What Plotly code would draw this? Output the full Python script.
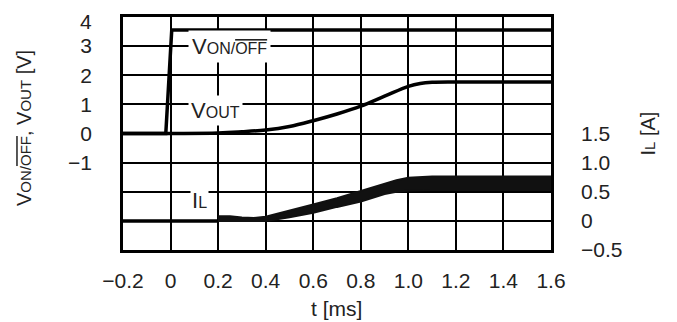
import plotly.graph_objects as go

# ---- data ----
t_ctrl = [-0.2, -0.02, 0.005, 1.6]
v_ctrl = [0.0, 0.0, 3.55, 3.55]

t_out = [-0.2, 0.2, 0.3, 0.4, 0.5, 0.6, 0.7, 0.8, 0.9, 1.0, 1.05, 1.1, 1.2, 1.6]
v_out = [0.0, 0.02, 0.06, 0.12, 0.24, 0.44, 0.67, 0.94, 1.28, 1.62, 1.72, 1.76, 1.77, 1.77]

t_il_base = [-0.2, 0.2]
il_base = [0.0, 0.0]

t_il = [0.2, 0.25, 0.3, 0.35, 0.4, 0.5, 0.6, 0.7, 0.8, 0.9, 0.95, 1.0, 1.1, 1.6]
il_upper = [0.08, 0.08, 0.06, 0.05, 0.07, 0.17, 0.28, 0.39, 0.51, 0.64, 0.70, 0.74, 0.76, 0.76]
il_lower = [0.0, 0.0, -0.01, -0.01, 0.0, 0.06, 0.14, 0.24, 0.33, 0.46, 0.50, 0.52, 0.53, 0.53]

x_ticks = [-0.2, 0.0, 0.2, 0.4, 0.6, 0.8, 1.0, 1.2, 1.4, 1.6]
x_tick_text = ["\u22120.2", "0", "0.2", "0.4", "0.6", "0.8", "1.0", "1.2", "1.4", "1.6"]

y_ticks = [-4, -3, -2, -1, 0, 1, 2, 3, 4]
y_tick_text = ["", "", "", "\u22121", "0", "1", "2", "3", ""]
y_top_label = "4"   # top tick label, placed as text so it stays inside the page

y2_ticks = [-0.5, 0.0, 0.5, 1.0, 1.5]
y2_tick_text = ["\u22120.5", "0", "0.5", "1.0", "1.5"]

FONT = "Liberation Sans, Arial, sans-serif"
LW = 3.5

fig = go.Figure()
fig.add_trace(go.Scatter(x=t_ctrl, y=v_ctrl, mode="lines",
                         line=dict(color="black", width=LW), yaxis="y"))
fig.add_trace(go.Scatter(x=t_out, y=v_out, mode="lines", line_shape="spline",
                         line=dict(color="black", width=LW), yaxis="y"))
fig.add_trace(go.Scatter(x=t_il_base, y=il_base, mode="lines",
                         line=dict(color="black", width=LW), yaxis="y2"))
fig.add_trace(go.Scatter(x=t_il, y=il_lower, mode="lines",
                         line=dict(color="#111", width=2), yaxis="y2"))
fig.add_trace(go.Scatter(x=t_il, y=il_upper, mode="lines", fill="tonexty",
                         fillcolor="#111", line=dict(color="#111", width=2), yaxis="y2"))

small = "font-size:16px"
small_t = "font-size:15px"
TXT = "#222"
annotations = [
    dict(x=0.247, y=3, xref="x", yref="y", xanchor="center", yanchor="middle",
         text=f"V<span style='{small}'>ON/<span style='text-decoration:overline'>OFF</span></span>",
         showarrow=False, bgcolor="white", font=dict(size=22, family=FONT, color=TXT),
         borderpad=3),
    dict(x=0.19, y=0.8, xref="x", yref="y", xanchor="center", yanchor="middle",
         text=f"V<span style='{small}'>OUT</span>",
         showarrow=False, bgcolor="white", font=dict(size=22, family=FONT, color=TXT),
         borderpad=2),
    dict(x=0.12, y=-2.3, xref="x", yref="y", xanchor="center", yanchor="middle",
         text=f"I<span style='{small}'>L</span>",
         showarrow=False, bgcolor="white", font=dict(size=22, family=FONT, color=TXT),
         borderpad=1),
    dict(x=-0.231, y=0.524, xref="paper", yref="paper", textangle=-90,
         xanchor="center", yanchor="middle",
         text=f"V<span style='{small_t}'>ON/<span style='text-decoration:overline'>OFF</span></span>, V<span style='{small_t}'>OUT</span> [V]",
         showarrow=False, font=dict(size=20, family=FONT, color=TXT)),
    dict(x=1.2266, y=0.5, xref="paper", yref="paper", textangle=-90,
         xanchor="center", yanchor="middle",
         text=f"I<span style='{small_t}'>L</span> [A]",
         showarrow=False, font=dict(size=20, family=FONT, color=TXT)),
    dict(x=0.498, y=-0.253, xref="paper", yref="paper",
         xanchor="center", yanchor="middle",
         text="t [ms]", showarrow=False, font=dict(size=21, family=FONT, color=TXT)),
    dict(x=-0.0678, y=1.0386, xref="paper", yref="paper",
         xanchor="right", yanchor="top",
         text=y_top_label, showarrow=False, font=dict(size=21, family=FONT, color=TXT)),
]

fig.update_layout(
    width=677, height=322,
    margin=dict(l=115, r=134, t=9, b=80, autoexpand=False),
    paper_bgcolor="white", plot_bgcolor="white",
    showlegend=False,
    font=dict(family=FONT, size=21, color=TXT),
    annotations=annotations,
    xaxis=dict(range=[-0.2, 1.6], tickvals=x_ticks, ticktext=x_tick_text,
               showgrid=True, gridcolor="black", gridwidth=1.6, zeroline=False,
               showline=True, mirror=True, linecolor="black", linewidth=2.5,
               ticks="", ticklabelstandoff=10, automargin=False,
               ticklabeloverflow="allow"),
    yaxis=dict(range=[-4, 4], tickvals=y_ticks, ticktext=y_tick_text,
               showgrid=True, gridcolor="black", gridwidth=1.6, zeroline=False,
               showline=True, mirror=True, linecolor="black", linewidth=2.5,
               ticks="", ticklabelstandoff=24, automargin=False,
               ticklabeloverflow="allow"),
    yaxis2=dict(range=[-0.5, 3.5], overlaying="y", side="right", anchor="x",
                tickvals=y2_ticks, ticktext=y2_tick_text,
                showgrid=False, zeroline=False, showline=False,
                ticks="", ticklabelstandoff=29, automargin=False,
                ticklabeloverflow="allow"),
)

fig.write_html("out.html")
